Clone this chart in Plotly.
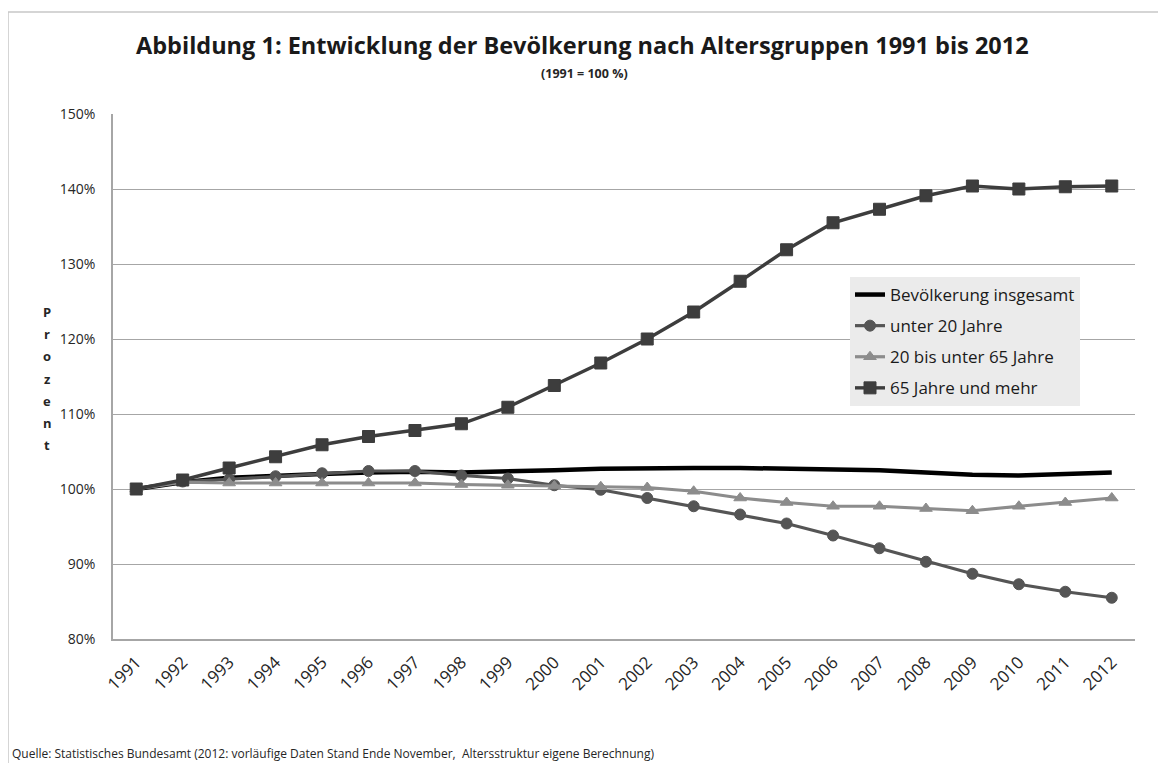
import plotly.graph_objects as go

# data (1991 = 100 %)
YEARS = [str(y) for y in range(1991, 2013)]
TOTAL = [100.0, 100.9, 101.5, 101.8, 102.0, 102.2, 102.3, 102.2, 102.3, 102.5, 102.7,
         102.8, 102.8, 102.8, 102.7, 102.6, 102.5, 102.2, 101.9, 101.8, 102.0, 102.2]
UNDER20 = [100.0, 101.0, 101.3, 101.7, 102.1, 102.4, 102.4, 101.8, 101.4, 100.5, 99.9,
           98.8, 97.7, 96.6, 95.4, 93.8, 92.1, 90.3, 88.7, 87.3, 86.3, 85.5]
AGE20_65 = [100.0, 100.9, 100.8, 100.8, 100.8, 100.8, 100.8, 100.6, 100.5, 100.4, 100.3,
            100.2, 99.7, 98.8, 98.2, 97.7, 97.7, 97.4, 97.1, 97.7, 98.2, 98.8]
OVER65 = [100.0, 101.2, 102.8, 104.3, 105.9, 107.0, 107.8, 108.7, 110.9, 113.8, 116.8,
          120.0, 123.6, 127.7, 131.9, 135.5, 137.3, 139.1, 140.4, 140.0, 140.3, 140.4]
Y_TICKS = [80, 90, 100, 110, 120, 130, 140, 150]
Y_LABELS = [f"{v}%" for v in Y_TICKS]

TITLE = "Abbildung 1: Entwicklung der Bevölkerung nach Altersgruppen 1991 bis 2012"
SUBTITLE = "(1991 = 100 %)"
SOURCE = ("Quelle: Statistisches Bundesamt (2012: vorläufige Daten Stand Ende November,"
          "&nbsp; Altersstruktur eigene Berechnung)")

FONT = "'Open Sans', Lato, sans-serif"
INK = "#262626"
GRID = "#a6a6a6"

# the page body adds an 8px margin, so the figure is 8px smaller than the window
OFF = 8
W, H = 1166 - OFF, 763 - OFF
# plot area in reference-page pixels: x 113..1135, y 114..639
L, R, T, B = 113 - OFF, 1166 - 1135, 114 - OFF, 763 - 639
PW, PH = W - L - R, H - T - B


def px(x):
    """reference page pixel -> paper x"""
    return (x - OFF - L) / PW


def py(y):
    """reference page pixel -> paper y"""
    return (H - B - (y - OFF)) / PH


fig = go.Figure()
series = [
    ("Bevölkerung insgesamt", TOTAL, "#000000", 4.5, None, 0),
    ("unter 20 Jahre", UNDER20, "#555555", 3.2, "circle", 11),
    ("20 bis unter 65 Jahre", AGE20_65, "#8c8c8c", 3.2, "triangle-up", 11),
    ("65 Jahre und mehr", OVER65, "#3d3d3d", 3.4, "square", 12),
]
for name, vals, col, lw, sym, ms in series:
    fig.add_trace(go.Scatter(
        x=YEARS, y=vals, name=name, legendgroup=name,
        mode="lines+markers" if sym else "lines",
        line=dict(color=col, width=lw),
        marker=dict(symbol=sym or "circle", size=ms, color=col,
                    line=dict(color=col, width=1))))

fig.update_xaxes(type="category", range=[-0.5, 21.5], tickangle=-45,
                 showline=True, linecolor=GRID, linewidth=1.5, showgrid=False,
                 ticklabelstandoff=5,
                 tickfont=dict(size=17, color=INK))
fig.update_yaxes(range=[80, 150], tickvals=Y_TICKS, ticktext=Y_LABELS,
                 showline=True, linecolor=GRID, linewidth=1.5,
                 gridcolor=GRID, gridwidth=1.3, zeroline=False,
                 ticklabelstandoff=13, tickfont=dict(size=14, color=INK))

# vertical "Prozent" axis label, one letter per line
for i, ch in enumerate("Prozent"):
    fig.add_annotation(text=f"<b>{ch}</b>", x=px(47), y=py(312 + i * 22.2),
                       xref="paper", yref="paper", showarrow=False,
                       xanchor="center", yanchor="middle",
                       font=dict(size=13, color=INK))

fig.add_annotation(text=f"<b>{TITLE}</b>", x=px(582), y=py(45), xref="paper", yref="paper",
                   xanchor="center", yanchor="middle", showarrow=False,
                   font=dict(size=23.5, color="#1a1a1a"))
fig.add_annotation(text=f"<b>{SUBTITLE}</b>", x=px(584), y=py(73), xref="paper", yref="paper",
                   xanchor="center", yanchor="middle", showarrow=False,
                   font=dict(size=12.5, color=INK))
fig.add_annotation(text=SOURCE, x=px(10), y=py(753), xref="paper", yref="paper",
                   xanchor="left", yanchor="middle", showarrow=False,
                   font=dict(size=12, color=INK))

# outer frame of the exported chart
fig.add_shape(type="rect", x0=px(8), x1=px(1180), y0=py(790), y1=py(12),
              xref="paper", yref="paper", line=dict(color="#c8c8c8", width=1.5))

fig.update_layout(
    width=W, height=H, paper_bgcolor="white", plot_bgcolor="white",
    font=dict(family=FONT, color=INK),
    margin=dict(l=L, r=R, t=T, b=B),
    legend=dict(x=px(850), y=py(277), xanchor="left", yanchor="top",
                bgcolor="#ebebeb", font=dict(size=17, color="#1a1a1a"),
                tracegroupgap=6, itemwidth=30),
    hovermode=False,
)

fig.write_html("out.html")
